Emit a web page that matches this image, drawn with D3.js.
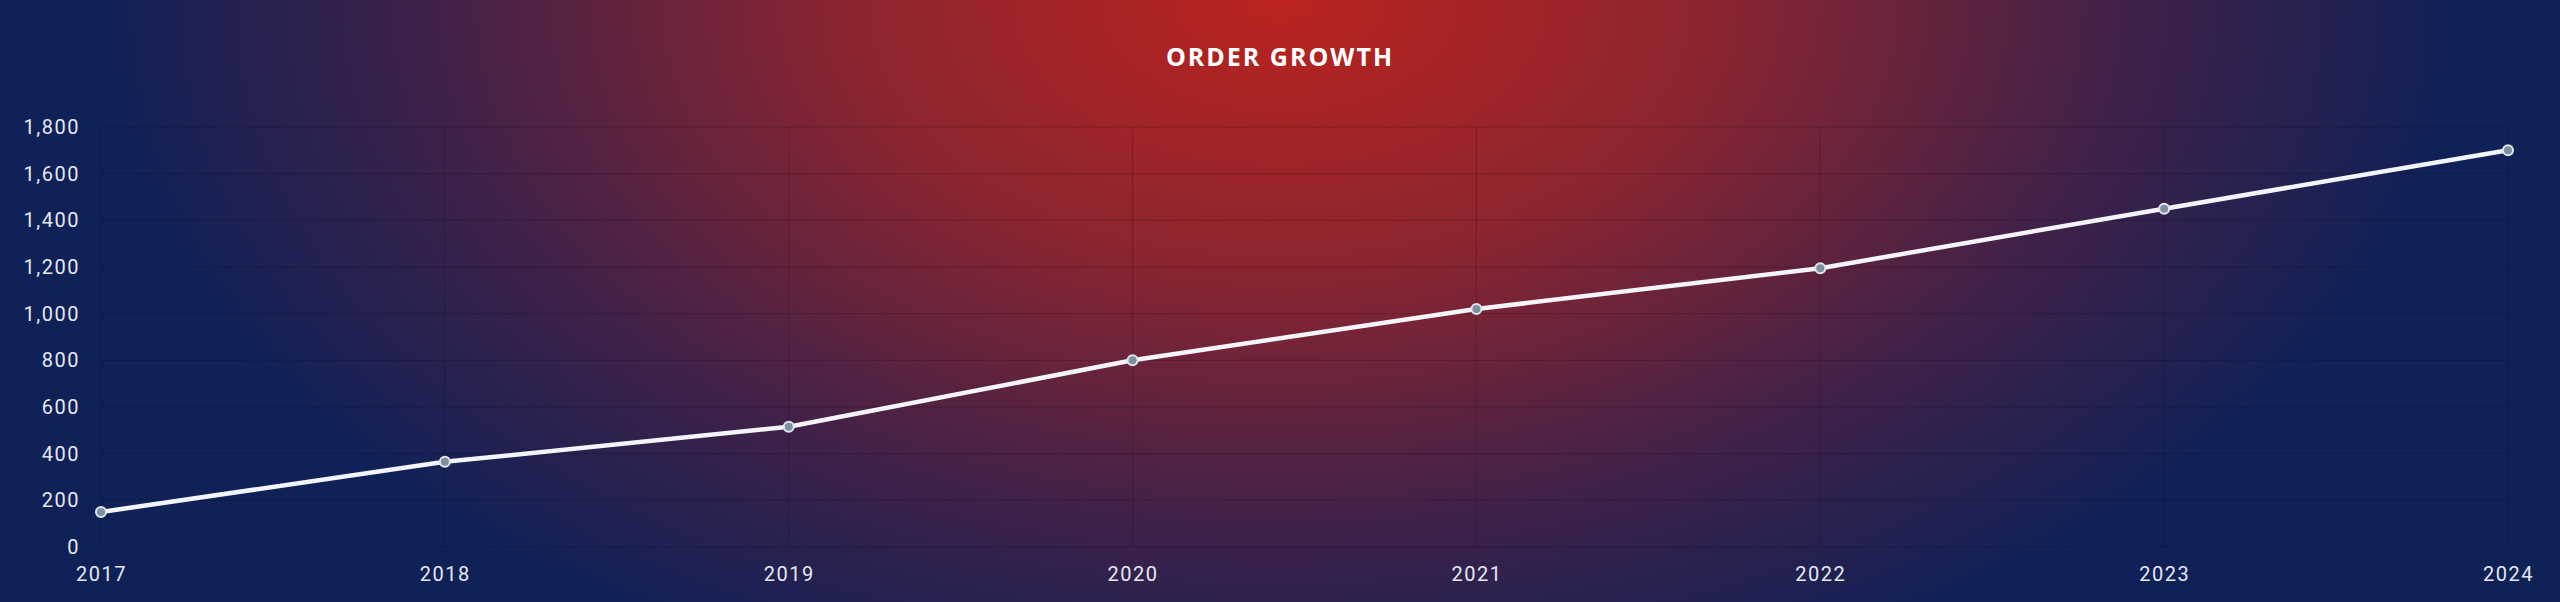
<!DOCTYPE html>
<html>
<head>
<meta charset="utf-8">
<script src="https://cdn.jsdelivr.net/npm/d3@7"></script>
<style>
  html, body { margin: 0; padding: 0; background: #0f2157; }
  svg { display: block; }
</style>
</head>
<body>
<div id="chart"></div>
<script>
//data
var years = ['2017', '2018', '2019', '2020', '2021', '2022', '2023', '2024'];
var orders = [150, 365, 515, 800, 1020, 1195, 1450, 1700];
var y_ticks = [0, 200, 400, 600, 800, 1000, 1200, 1400, 1600, 1800];

var width = 2560;
var height = 602;
var padding = {'top': 127, 'right': 52, 'bottom': 55, 'left': 101};

var svg = d3.select('#chart')
    .append('svg')
    .attr('width', width)
    .attr('height', height);

//background gradient
var defs = svg.append('defs');
var grad = defs.append('radialGradient')
    .attr('id', 'bg')
    .attr('gradientUnits', 'userSpaceOnUse')
    .attr('cx', width / 2)
    .attr('cy', 0)
    .attr('r', 1250)
    .attr('gradientTransform', 'translate(' + (width / 2) + ',0) scale(1,0.62) translate(' + (-width / 2) + ',0)');
grad.append('stop').attr('offset', '0%').attr('stop-color', '#bb231e');
grad.append('stop').attr('offset', '35%').attr('stop-color', '#8a2530');
grad.append('stop').attr('offset', '68%').attr('stop-color', '#3f2149');
grad.append('stop').attr('offset', '95%').attr('stop-color', '#0f2157');

svg.append('rect')
    .attr('width', width)
    .attr('height', height)
    .attr('fill', 'url(#bg)');

var x = d3.scalePoint()
    .domain(years)
    .range([padding.left, width - padding.right]);

var y = d3.scaleLinear()
    .domain([0, 1800])
    .range([height - padding.bottom, padding.top]);

//grid
svg.append('g')
    .selectAll('line')
    .data(y_ticks)
    .enter().append('line')
    .attr('x1', padding.left)
    .attr('x2', width - padding.right)
    .attr('y1', function(d){ return y(d); })
    .attr('y2', function(d){ return y(d); })
    .attr('stroke', 'rgba(0,0,0,0.18)')
    .attr('stroke-width', 1);

svg.append('g')
    .selectAll('line')
    .data(years)
    .enter().append('line')
    .attr('x1', function(d){ return x(d); })
    .attr('x2', function(d){ return x(d); })
    .attr('y1', padding.top)
    .attr('y2', height - padding.bottom)
    .attr('stroke', 'rgba(0,0,0,0.18)')
    .attr('stroke-width', 1);

//axes
var y_axis = svg.append('g')
    .attr('transform', 'translate(' + (padding.left - 18) + ',0)')
    .call(d3.axisLeft(y).tickValues(y_ticks).tickSize(0).tickFormat(d3.format(',')));

var x_axis = svg.append('g')
    .attr('transform', 'translate(0,' + (height - padding.bottom + 17) + ')')
    .call(d3.axisBottom(x).tickSize(0));

[y_axis, x_axis].forEach(function(a){
    a.select('.domain').remove();
    a.selectAll('text')
        .attr('fill', '#e6e8f0')
        .style('font-family', 'Roboto, sans-serif')
        .style('font-size', '20px')
        .style('letter-spacing', '1.5px');
});

//line
var line = d3.line()
    .x(function(d, i){ return x(years[i]); })
    .y(function(d){ return y(d); });

svg.append('path')
    .datum(orders)
    .attr('d', line)
    .attr('fill', 'none')
    .attr('stroke', '#f4f5fa')
    .attr('stroke-width', 4.5);

svg.append('g')
    .selectAll('circle')
    .data(orders)
    .enter().append('circle')
    .attr('cx', function(d, i){ return x(years[i]); })
    .attr('cy', function(d){ return y(d); })
    .attr('r', 5)
    .attr('fill', '#7f8fa0')
    .attr('stroke', '#dfe6ee')
    .attr('stroke-width', 2);

//title
svg.append('text')
    .attr('x', width / 2)
    .attr('y', 66)
    .attr('text-anchor', 'middle')
    .attr('fill', '#ffffff')
    .style('font-family', '"Open Sans", sans-serif')
    .style('font-weight', 'bold')
    .style('font-size', '25px')
    .style('letter-spacing', '2px')
    .text('ORDER GROWTH');
</script>
</body>
</html>
